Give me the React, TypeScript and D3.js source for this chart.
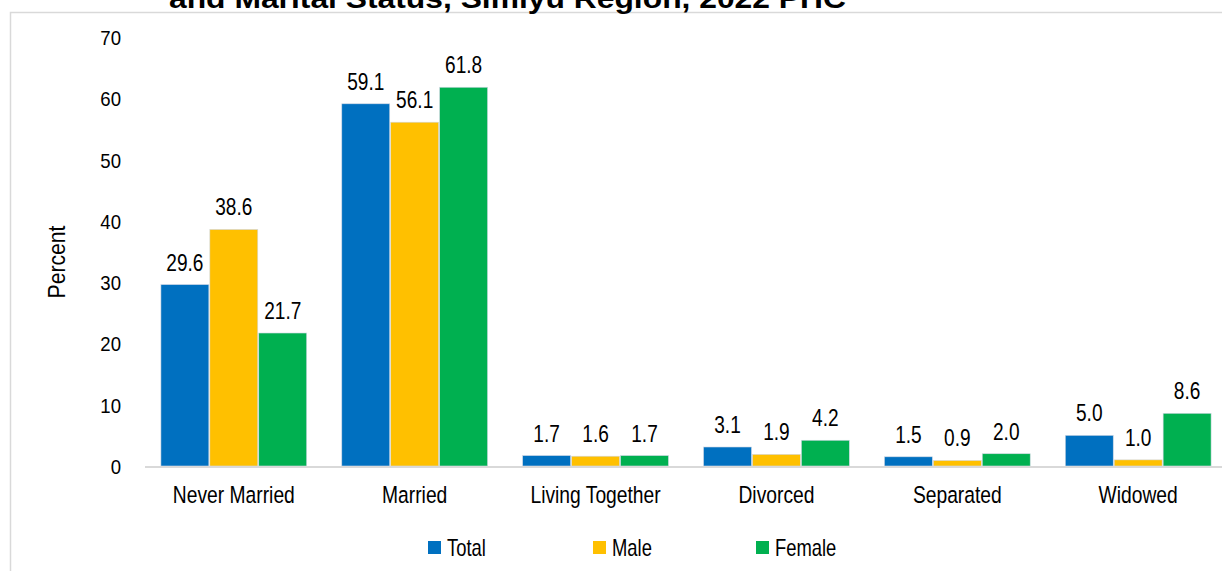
import React, { useEffect, useRef } from "react";
import * as d3 from "d3";

const categories = ["Never Married", "Married", "Living Together", "Divorced", "Separated", "Widowed"];
const seriesNames = ["Total", "Male", "Female"];
const seriesColors = ["#0070c0", "#ffc000", "#00b050"];
const totalValues = [29.6, 59.1, 1.7, 3.1, 1.5, 5.0];
const maleValues = [38.6, 56.1, 1.6, 1.9, 0.9, 1.0];
const femaleValues = [21.7, 61.8, 1.7, 4.2, 2.0, 8.6];
const yTicks = [0, 10, 20, 30, 40, 50, 60, 70];

const W = 1222, H = 571;
const FONT = "'Liberation Sans', Arial, sans-serif";

// condensed text, like the narrow font of the original
function label(sel: any, x: number, y: number, txt: string, size: number, sx: number, anchor = "middle") {
  return sel.append("text")
    .attr("transform", `translate(${x},${y}) scale(${sx},1)`)
    .attr("text-anchor", anchor)
    .style("font-family", FONT).style("font-size", size + "px")
    .attr("fill", "#000").text(txt);
}

export default function App() {
  const ref = useRef<SVGSVGElement>(null);

  useEffect(() => {
    const svg = d3.select(ref.current);
    svg.selectAll("*").remove();

    const values = [totalValues, maleValues, femaleValues];

    // chart area border (only left and top visible)
    svg.append("rect").attr("x", 10.5).attr("y", 12.5).attr("width", W + 20).attr("height", H + 20)
      .attr("fill", "white").attr("stroke", "#d9d9d9").attr("stroke-width", 1.5);

    // title, cut off by top edge like the original
    svg.append("text").attr("x", 169).attr("y", 8)
      .attr("textLength", 677).attr("lengthAdjust", "spacingAndGlyphs")
      .style("font-family", FONT).style("font-weight", "bold").style("font-size", "27px")
      .attr("fill", "#000").text("and Marital Status, Simiyu Region, 2022 PHC");

    const y = d3.scaleLinear().domain([0, 70]).range([466, 37]);
    const x0 = d3.scaleBand().domain(categories).range([145, 1227]).paddingInner(0.194).paddingOuter(0.088);
    const x1 = d3.scaleBand().domain(seriesNames).range([0, x0.bandwidth()]).paddingInner(0.02);

    // y tick labels
    yTicks.forEach(t => label(svg, 121, y(t) + 8, String(t), 20, 0.93, "end"));

    // axis title
    svg.append("text").attr("transform", "translate(65,262) rotate(-90) scale(0.92,1)").attr("text-anchor", "middle")
      .style("font-family", FONT).style("font-size", "23px").attr("fill", "#000").text("Percent");

    // bars
    const groups = svg.append("g").selectAll("g").data(categories).join("g")
      .attr("transform", d => `translate(${x0(d)},0)`);

    groups.each(function (cat, ci) {
      const g = d3.select(this);
      seriesNames.forEach((s, si) => {
        const v = values[si][ci];
        g.append("rect").attr("x", x1(s)!).attr("y", y(v)).attr("width", x1.bandwidth())
          .attr("height", y(0) - y(v)).attr("fill", seriesColors[si])
          .attr("stroke", "#d0d8e4").attr("stroke-width", 0.6);
        label(g, x1(s)! + x1.bandwidth() / 2, y(v) - 14, v.toFixed(1), 23, 0.83);
      });
    });

    // baseline
    svg.append("line").attr("x1", 145).attr("x2", W).attr("y1", y(0) + 1).attr("y2", y(0) + 1)
      .attr("stroke", "#d9d9d9").attr("stroke-width", 2);

    // category labels
    categories.forEach(c => label(svg, x0(c)! + x0.bandwidth() / 2, 503, c, 23.5, 0.82));

    // legend
    const legendX = [428, 593, 756];
    seriesNames.forEach((s, i) => {
      svg.append("rect").attr("x", legendX[i]).attr("y", 541).attr("width", 13).attr("height", 13)
        .attr("fill", seriesColors[i]);
      label(svg, legendX[i] + 19, 556, s, 23, 0.8, "start");
    });
  }, []);

  return (
    <svg ref={ref} width={W} height={H} style={{ position: "absolute", left: 0, top: 0, background: "white" }} />
  );
}
